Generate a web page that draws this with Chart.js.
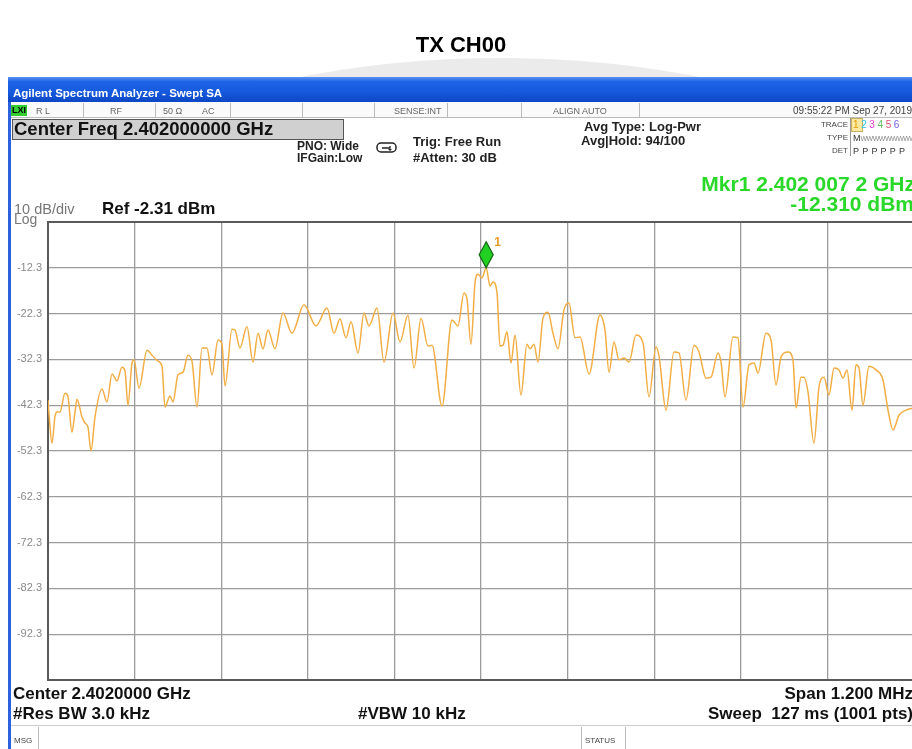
<!DOCTYPE html>
<html>
<head>
<meta charset="utf-8">
<script src="https://cdn.jsdelivr.net/npm/chart.js@4.4.1/dist/chart.umd.min.js"></script>
<style>
html,body{margin:0;padding:0;background:#fff;}
body{width:912px;height:749px;overflow:hidden;position:relative;font-family:"Liberation Sans",Arial,sans-serif;}
.t{position:absolute;white-space:nowrap;line-height:1;}
.b{font-weight:bold;}
.g{color:#666;}
#wm{position:absolute;left:0;top:0;width:912px;height:77px;overflow:hidden;}
#wm div{position:absolute;left:-562px;top:58px;width:2124px;height:2124px;border-radius:50%;background:#ebebeb;}
#win{position:absolute;left:8px;top:77px;width:920px;height:672px;background:#fff;border-left:3px solid #2a62e0;}
#bar{position:absolute;left:8px;top:77px;width:920px;height:25px;background:linear-gradient(#5a92f0 0%,#1f64e6 18%,#1559de 60%,#0c47c4 100%);}
#status{position:absolute;left:11px;top:102px;width:910px;height:15px;border-bottom:1px solid #bbb;background:#fafafa;}
.sep{position:absolute;width:1px;background:#bbb;}
#cfbox{position:absolute;left:12px;top:119px;width:330px;height:19px;background:#d0d0d0;border:1px solid #555;}
canvas{position:absolute;left:0;top:0;}
</style>
</head>
<body>
<div id="wm"><div></div></div>
<div id="win"></div>
<div id="bar"></div>
<div id="status"></div>
<div class="sep" style="left:83px;top:103px;height:14px"></div>
<div class="sep" style="left:155px;top:103px;height:14px"></div>
<div class="sep" style="left:230px;top:103px;height:14px"></div>
<div class="sep" style="left:302px;top:103px;height:14px"></div>
<div class="sep" style="left:374px;top:103px;height:14px"></div>
<div class="sep" style="left:447px;top:103px;height:14px"></div>
<div class="sep" style="left:521px;top:103px;height:14px"></div>
<div class="sep" style="left:639px;top:103px;height:14px"></div>
<div id="cfbox"></div>
<div style="position:absolute;left:11px;top:725px;width:910px;height:1px;background:#ccc"></div>
<div class="sep" style="left:38px;top:727px;height:22px"></div>
<div class="sep" style="left:581px;top:727px;height:22px"></div>
<div class="sep" style="left:625px;top:727px;height:22px"></div>
<div class="sep" style="left:850px;top:118px;height:38px;background:#999"></div>

<canvas id="c" width="930" height="749"></canvas>

<div class="t b" style="left:0;width:922px;text-align:center;top:34px;font-size:22px;color:#000">TX CH00</div>
<div class="t b" style="left:13px;top:88px;font-size:11.5px;color:#fff">Agilent Spectrum Analyzer - Swept SA</div>

<div class="t b" style="left:11px;top:105px;font-size:9px;background:#3c3;color:#000;padding:0 1px;height:11px;line-height:11px">LXI</div>
<div class="t g" style="left:36px;top:107px;font-size:9px">R L</div>
<div class="t g" style="left:110px;top:107px;font-size:9px">RF</div>
<div class="t g" style="left:163px;top:107px;font-size:9px">50 Ω</div>
<div class="t g" style="left:202px;top:107px;font-size:9px">AC</div>
<div class="t g" style="left:394px;top:107px;font-size:9px">SENSE:INT</div>
<div class="t g" style="left:553px;top:107px;font-size:9px">ALIGN AUTO</div>
<div class="t" style="right:0;top:106px;font-size:10px;color:#444">09:55:22 PM Sep 27, 2019</div>

<div class="t b" style="left:14px;top:120px;font-size:18.5px;color:#111">Center Freq 2.402000000 GHz</div>
<div class="t b" style="left:297px;top:140px;font-size:12px;color:#222">PNO: Wide</div>
<div class="t b" style="left:297px;top:152px;font-size:12px;color:#222">IFGain:Low</div>
<svg style="position:absolute;left:376px;top:142px" width="22" height="12"><rect x="1" y="1" width="19" height="9" rx="4" ry="4" fill="none" stroke="#222" stroke-width="1.5"/><path d="M6 6 L14 6 L14 4" fill="none" stroke="#222" stroke-width="1.3"/><path d="M12 7 L14 9 L16 7 Z" fill="#222"/></svg>
<div class="t b" style="left:413px;top:135px;font-size:13px;color:#222">Trig: Free Run</div>
<div class="t b" style="left:413px;top:151px;font-size:13px;color:#222">#Atten: 30 dB</div>
<div class="t b" style="left:584px;top:120px;font-size:13px;color:#222">Avg Type: Log-Pwr</div>
<div class="t b" style="left:581px;top:134px;font-size:13px;color:#222">Avg|Hold: 94/100</div>

<div class="t" style="right:64px;top:121px;font-size:8px;color:#444">TRACE</div>
<div class="t" style="right:64px;top:134px;font-size:8px;color:#444">TYPE</div>
<div class="t" style="right:64px;top:147px;font-size:8px;color:#444">DET</div>
<div style="position:absolute;left:851px;top:118px;width:10px;height:12px;background:#ffe9a0;border:1px solid #c8b060"></div>
<div class="t" style="left:853px;top:120px;font-size:10px;letter-spacing:2.6px"><span style="color:#e09a00">1</span><span style="color:#30c0e0">2</span><span style="color:#e040d0">3</span><span style="color:#60c060">4</span><span style="color:#e05070">5</span><span style="color:#7060e0">6</span></div>
<div class="t" style="left:853px;top:134px;font-size:9px;color:#333">M<span style="color:#888;font-size:7px;letter-spacing:-0.5px">WWWWWWWWW</span></div>
<div class="t" style="left:853px;top:147px;font-size:9px;color:#333;letter-spacing:3.2px">PPPPPP</div>

<div class="t b" style="right:-3px;top:173px;font-size:21px;color:#2ad82a">Mkr1 2.402 007 2 GHz</div>
<div class="t b" style="right:-2px;top:193px;font-size:21px;color:#2ad82a">-12.310 dBm</div>

<div class="t" style="left:14px;top:202px;font-size:14.5px;color:#777">10 dB/div</div>
<div class="t" style="left:14px;top:212px;font-size:14px;color:#777">Log</div>
<div class="t b" style="left:102px;top:200px;font-size:17px;color:#111">Ref -2.31 dBm</div>

<div class="t b" style="left:13px;top:685px;font-size:17px;color:#111">Center 2.4020000 GHz</div>
<div class="t b" style="left:13px;top:705px;font-size:17px;color:#111">#Res BW 3.0 kHz</div>
<div class="t b" style="left:358px;top:705px;font-size:17px;color:#111">#VBW 10 kHz</div>
<div class="t b" style="right:-1px;top:685px;font-size:17px;color:#111">Span 1.200 MHz</div>
<div class="t b" style="right:-1px;top:705px;font-size:17px;color:#111">Sweep&nbsp; 127 ms (1001 pts)</div>
<div class="t" style="left:14px;top:737px;font-size:8px;color:#444">MSG</div>
<div class="t" style="left:585px;top:737px;font-size:8px;color:#444">STATUS</div>

<script>
// ---- data ----
const centerFreqGHz = 2.402;
const spanKHz = 1200;
// frequency offset from centre, kHz
const freqOffsetKHz = [
-600.0,-598.6,-594.5,-590.3,-587.5,-583.4,-576.5,-572.3,-566.8,-562.6,
-559.8,-552.9,-548.7,-544.6,-540.4,-534.9,-525.2,-518.3,-511.3,-504.4,
-497.5,-493.3,-489.2,-483.6,-480.8,-473.9,-462.8,-455.9,-447.6,-442.0,
-437.9,-431.0,-426.8,-419.9,-412.9,-406.0,-400.5,-393.5,-386.6,-379.7,
-372.8,-364.4,-358.9,-354.7,-345.0,-340.9,-334.0,-324.3,-315.9,-309.0,
-302.1,-295.2,-285.5,-274.4,-261.9,-245.3,-228.6,-213.4,-203.7,-195.4,
-187.1,-180.1,-170.4,-162.1,-155.2,-144.1,-134.4,-121.9,-112.2,-101.2,
-92.8,-83.1,-73.4,-67.9,-54.0,-40.2,-31.9,-23.6,-19.4,-13.9,
-8.3,-4.2,1.4,7.2,12.5,16.6,22.2,26.3,30.5,36.0,
41.6,47.1,55.4,63.7,67.9,73.4,79.0,85.9,92.8,99.8,
106.7,115.0,121.9,130.3,137.2,149.7,164.9,171.8,177.4,184.3,
191.2,198.2,205.1,214.8,224.5,232.8,242.5,246.7,256.4,267.4,
274.4,284.1,295.2,302.1,311.8,318.7,328.4,332.6,338.1,349.2,
356.1,363.1,371.4,378.3,383.8,394.9,401.9,408.8,415.7,425.4,
432.3,436.5,443.4,447.6,453.1,461.4,468.4,475.3,482.2,489.2,
496.1,501.6,507.2,514.1,519.6,523.8,529.3,537.6,547.4,557.0,
564.0,570.9,579.2,588.9,600.0
];
// trace level, dBm
const levelDbm = [
-41.2,-44.2,-50.6,-44.7,-43.8,-43.8,-39.7,-40.5,-48.2,-43.8,
-41.0,-44.9,-46.2,-47.1,-52.3,-44.9,-38.8,-41.6,-35.5,-37.0,
-34.0,-34.8,-42.3,-33.1,-32.4,-38.6,-30.3,-31.4,-32.7,-33.8,
-42.7,-40.3,-41.6,-35.7,-35.1,-31.4,-32.7,-42.7,-29.8,-29.8,
-35.7,-28.1,-29.0,-38.1,-25.7,-25.9,-29.8,-25.2,-32.9,-26.6,
-30.0,-25.9,-30.0,-22.2,-26.6,-20.4,-25.0,-21.1,-26.6,-23.5,
-27.6,-24.1,-30.9,-22.2,-25.0,-21.1,-32.9,-22.2,-28.5,-22.6,
-34.2,-23.3,-29.4,-29.2,-42.5,-23.7,-25.0,-17.8,-19.1,-29.0,
-15.6,-13.7,-14.5,-12.31,-16.3,-15.4,-17.8,-29.4,-29.2,-26.3,
-33.1,-27.0,-40.1,-29.0,-30.0,-29.0,-32.9,-23.3,-22.0,-26.6,
-30.0,-21.5,-20.0,-27.6,-27.4,-35.5,-22.6,-25.9,-35.1,-28.5,
-32.4,-32.0,-32.9,-27.0,-28.7,-40.5,-29.6,-31.6,-43.4,-30.7,
-30.9,-41.2,-29.2,-30.7,-36.4,-36.2,-30.9,-32.9,-40.5,-27.4,
-27.6,-42.7,-33.5,-33.1,-35.3,-26.6,-28.1,-37.9,-31.8,-30.7,
-32.4,-42.9,-36.2,-36.2,-39.4,-50.6,-38.3,-36.2,-40.1,-34.2,
-34.6,-36.4,-34.6,-43.4,-33.5,-34.2,-42.3,-33.8,-34.6,-36.8,
-43.4,-47.7,-44.5,-43.4,-42.9
];
// axis: reference level and 10 dB/div
const refLevelDbm = -2.31;
const levelTicks = [-2.31,-12.31,-22.31,-32.31,-42.31,-52.31,-62.31,-72.31,-82.31,-92.31,-102.31];
const freqGridKHz = [-600,-480,-360,-240,-120,0,120,240,360,480,600];
// marker 1
const markerFreqKHz = 7.2;
const markerLevelDbm = -12.31;
const markerLabel = '1';

const framePlugin = {
  id:'frame',
  beforeDatasetsDraw(chart){
    const {ctx, chartArea:a} = chart;
    ctx.save();
    ctx.strokeStyle = '#5a5a5a';
    ctx.lineWidth = 2;
    ctx.strokeRect(a.left, a.top, a.right - a.left, a.bottom - a.top);
    ctx.restore();
  }
};
const markerPlugin = {
  id:'marker',
  afterDatasetsDraw(chart){
    const {ctx, scales} = chart;
    const x = scales.x.getPixelForValue(markerFreqKHz);
    const y = scales.y.getPixelForValue(markerLevelDbm);
    ctx.save();
    ctx.beginPath();
    ctx.moveTo(x, y);
    ctx.lineTo(x + 7, y - 13);
    ctx.lineTo(x, y - 26);
    ctx.lineTo(x - 7, y - 13);
    ctx.closePath();
    ctx.fillStyle = '#22d022';
    ctx.fill();
    ctx.strokeStyle = '#1a6a1a';
    ctx.lineWidth = 1.3;
    ctx.stroke();
    ctx.fillStyle = '#e49a20';
    ctx.font = 'bold 12px "Liberation Sans", Arial, sans-serif';
    ctx.textBaseline = 'middle';
    ctx.fillText(markerLabel, x + 8, y - 25);
    ctx.restore();
  }
};

const gridColor = '#9c9c9c';
new Chart(document.getElementById('c').getContext('2d'), {
  type:'line',
  data:{
    datasets:[{
      data: freqOffsetKHz.map((f,i)=>({x:f, y:levelDbm[i]})),
      borderColor:'#F2AE44',
      borderWidth:1.5,
      pointRadius:0,
      fill:false,
      cubicInterpolationMode:'monotone'
    }]
  },
  options:{
    responsive:false,
    animation:false,
    devicePixelRatio:1,
    layout:{padding:{left:8, top:222, right:16, bottom:69}},
    plugins:{legend:{display:false}, tooltip:{enabled:false}},
    scales:{
      x:{
        type:'linear', min:-spanKHz/2, max:spanKHz/2,
        afterBuildTicks:(s)=>{ s.ticks = freqGridKHz.map(v=>({value:v})); },
        afterFit:(s)=>{ s.height = 0; },
        ticks:{display:false},
        grid:{color:gridColor, lineWidth:1.3, drawTicks:false},
        border:{display:false}
      },
      y:{
        type:'linear', min:levelTicks[levelTicks.length-1], max:refLevelDbm,
        afterBuildTicks:(s)=>{ s.ticks = levelTicks.map(v=>({value:v})); },
        afterFit:(s)=>{ s.width = 40; },
        ticks:{
          color:'#8a8a8a', padding:6,
          font:{size:11, family:'"Liberation Sans", Arial, sans-serif'},
          callback:(v)=> (v===levelTicks[0] || v===levelTicks[levelTicks.length-1]) ? '' : v.toFixed(1)
        },
        grid:{color:gridColor, lineWidth:1.3, drawTicks:false},
        border:{display:false}
      }
    }
  },
  plugins:[framePlugin, markerPlugin]
});
</script>
</body>
</html>
